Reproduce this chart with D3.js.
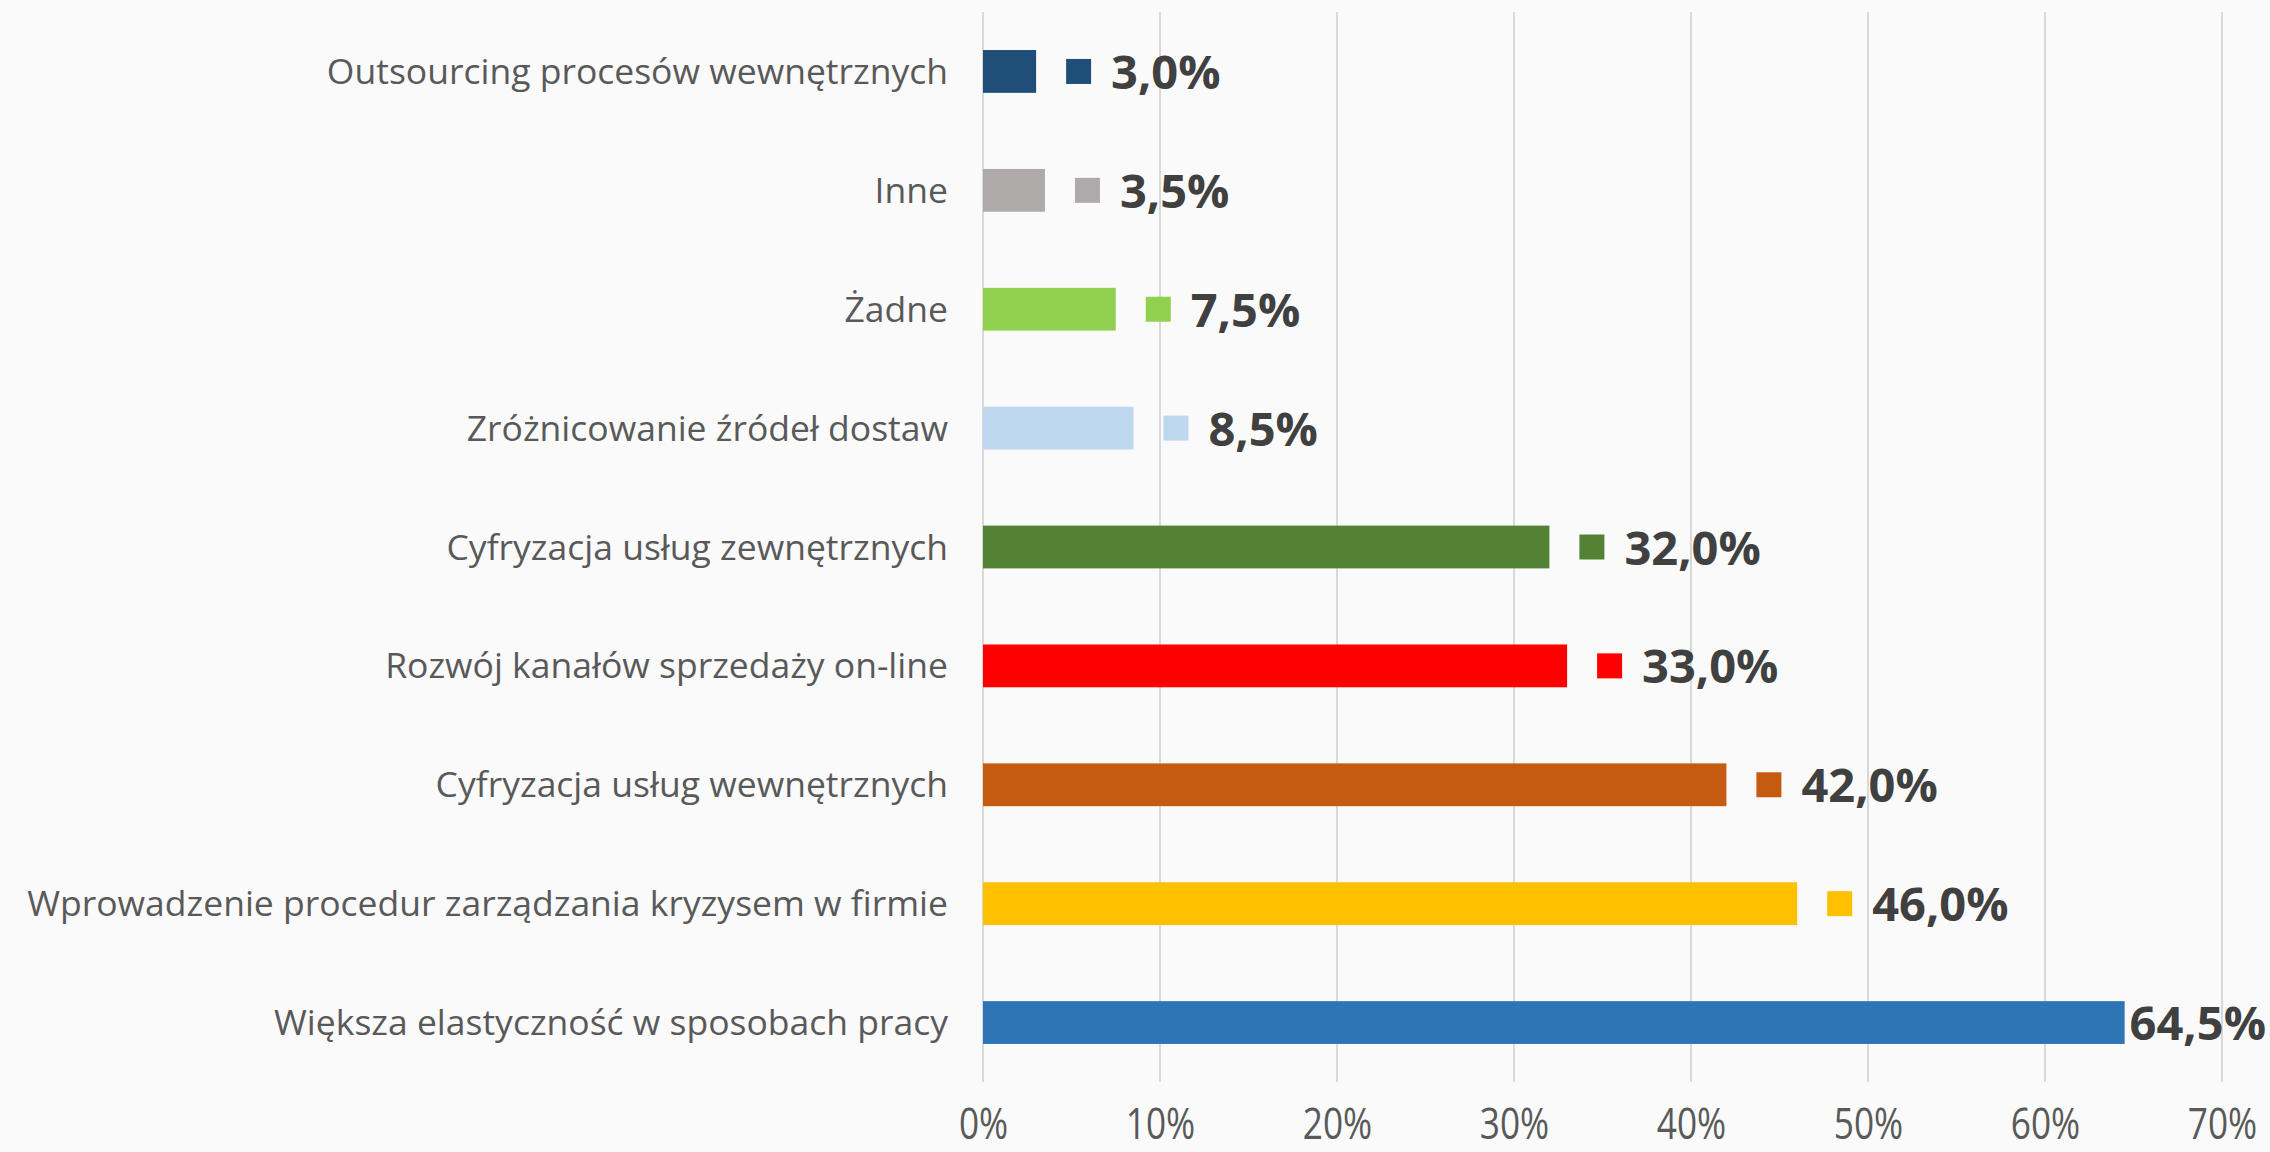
<!DOCTYPE html>
<html>
<head>
<meta charset="utf-8">
<script src="https://cdn.jsdelivr.net/npm/d3@7"></script>
<style>
  html, body { margin: 0; padding: 0; background: #FAFAFA; }
  svg { display: block; }
</style>
</head>
<body>
<svg id="chart" width="2270" height="1152"></svg>
<script>
const categories = [
  "Outsourcing procesów wewnętrznych",
  "Inne",
  "Żadne",
  "Zróżnicowanie źródeł dostaw",
  "Cyfryzacja usług zewnętrznych",
  "Rozwój kanałów sprzedaży on-line",
  "Cyfryzacja usług wewnętrznych",
  "Wprowadzenie procedur zarządzania kryzysem w firmie",
  "Większa elastyczność w sposobach pracy"
];
const values = [0.03, 0.035, 0.075, 0.085, 0.32, 0.33, 0.42, 0.46, 0.645];
const colors = ["#1F4E79", "#AEAAAA", "#92D050", "#BDD7EE", "#548235", "#FF0000", "#C55A11", "#FFC000", "#2E75B6"];
const tickValues = [0, 0.1, 0.2, 0.3, 0.4, 0.5, 0.6, 0.7];

const data = categories.map((c, i) => ({ cat: c, v: values[i], color: colors[i] }));

const svg = d3.select("#chart");
const W = 2270, H = 1152;
svg.append("rect").attr("width", W).attr("height", H).attr("fill", "#FAFAFA");

const x = d3.scaleLinear().domain([0, 0.7]).range([983, 2222]);
const y = d3.scaleBand().domain(categories).range([12, 1082]).paddingInner(0.64).paddingOuter(0.32);

const pl = d3.formatLocale({ decimal: ",", thousands: " ", grouping: [3], currency: ["", " zł"] });
const fmtVal = pl.format(".1%");
const fmtTick = pl.format(".0%");

// gridlines
svg.append("g").selectAll("line").data(tickValues).join("line")
  .attr("x1", d => x(d)).attr("x2", d => x(d))
  .attr("y1", 12).attr("y2", 1082)
  .attr("stroke", "#D9D9D9").attr("stroke-width", 2);

// x axis tick labels
const xAxis = svg.append("g").attr("transform", "translate(0,1139)")
  .call(d3.axisBottom(x).tickValues(tickValues).tickFormat(fmtTick).tickSize(0).tickPadding(0));
xAxis.select(".domain").remove();
xAxis.selectAll("text")
  .attr("dy", 0).attr("y", 0)
  .attr("font-family", "'Open Sans', sans-serif")
  .attr("font-size", 44)
  .attr("fill", "#595959")
  .attr("transform", "scale(0.8,1)");

// y axis labels
const yAxis = svg.append("g").attr("transform", "translate(983,0)")
  .call(d3.axisLeft(y).tickSize(0).tickPadding(35));
yAxis.select(".domain").remove();
yAxis.selectAll("text")
  .attr("dy", 0).attr("y", 12.5)
  .attr("font-family", "'Open Sans', sans-serif")
  .attr("font-size", 35.5)
  .attr("fill", "#595959");

// bars
svg.append("g").selectAll("rect").data(data).join("rect")
  .attr("x", x(0))
  .attr("y", d => y(d.cat))
  .attr("width", d => x(d.v) - x(0))
  .attr("height", y.bandwidth())
  .attr("fill", d => d.color);

// value labels with legend keys
const limit = 2266;
const lab = svg.append("g").selectAll("g").data(data).join("g");
lab.each(function (d) {
  const g = d3.select(this);
  const cy = y(d.cat) + y.bandwidth() / 2;
  const sx = x(d.v) + 30;
  g.append("rect")
    .attr("x", sx).attr("y", cy - 12.5)
    .attr("width", 25).attr("height", 25)
    .attr("fill", d.color);
  const t = g.append("text")
    .attr("x", sx + 45).attr("y", cy + 17.5)
    .attr("font-family", "'Open Sans', sans-serif")
    .attr("font-weight", 700)
    .attr("font-size", 47)
    .attr("fill", "#404040")
    .text(fmtVal(d.v));
  const bb = t.node().getBBox();
  const over = bb.x + bb.width - limit;
  if (over > 0) g.attr("transform", `translate(${-over},0)`);
});
</script>
</body>
</html>
